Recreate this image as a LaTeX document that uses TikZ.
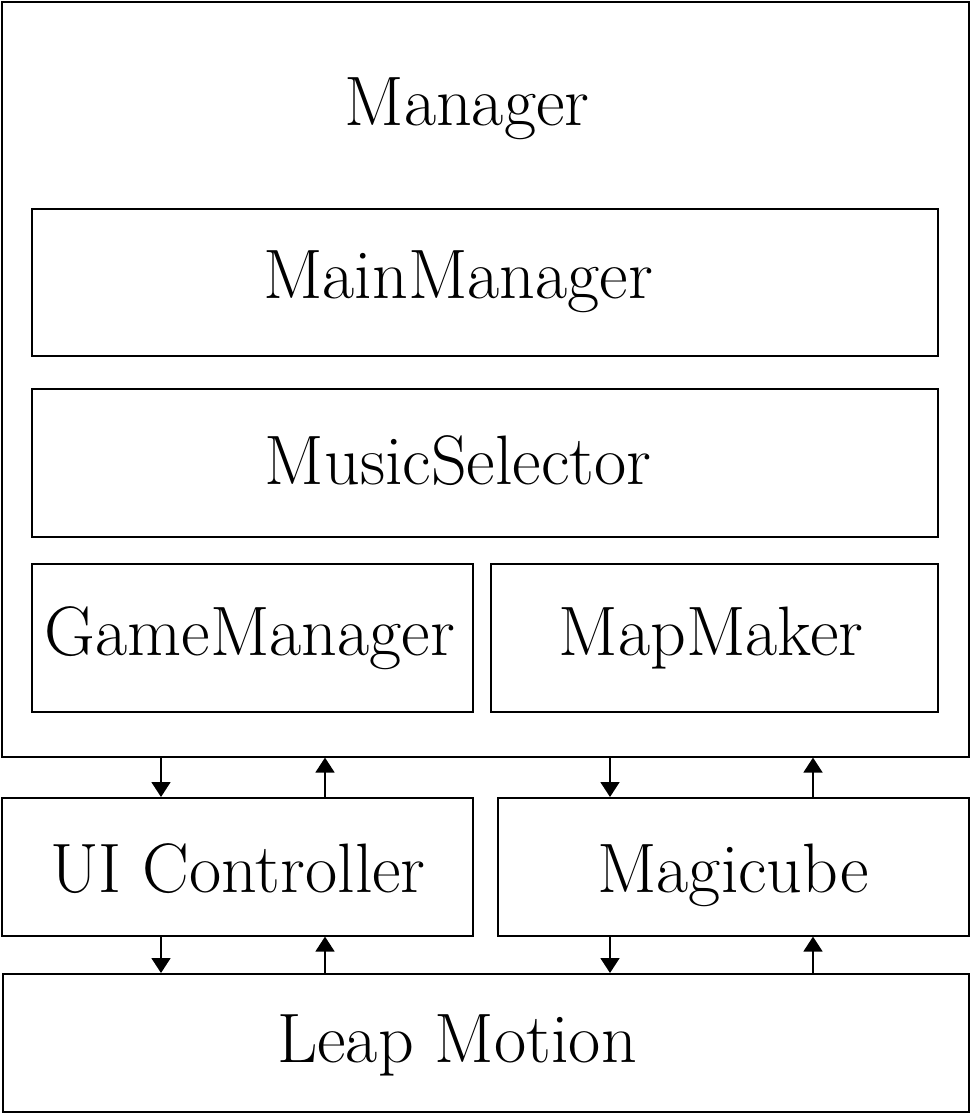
\documentclass[tikz,border=0pt]{standalone}
\usepackage{fontspec}
\usetikzlibrary{arrows.meta}
\begin{document}
\begin{tikzpicture}[x=1pt,y=1pt,
  box/.style={draw=black,line width=1.6pt,rectangle,inner sep=0pt,anchor=north west},
  lbl/.style={anchor=base,inner sep=0pt,font=\fontsize{70}{84}\selectfont},
  arr/.style={line width=1.8pt,-{Triangle[width=19pt,length=15pt]}}]
\useasboundingbox (0,0) rectangle (970,-1114);
% boxes
\node[box,minimum width=967pt,minimum height=755pt] (mgr) at (1,-1) {};
\node[box,minimum width=906pt,minimum height=147pt] (mainm) at (31,-208) {};
\node[box,minimum width=906pt,minimum height=148pt] (music) at (31,-388) {};
\node[box,minimum width=441pt,minimum height=148pt] (game) at (31,-563) {};
\node[box,minimum width=447pt,minimum height=148pt] (mapm) at (490,-563) {};
\node[box,minimum width=471pt,minimum height=138pt] (ui) at (1,-797) {};
\node[box,minimum width=471pt,minimum height=138pt] (cube) at (497,-797) {};
\node[box,minimum width=966pt,minimum height=138pt] (leap) at (2,-973) {};
% labels
\node[lbl] (tmgr) at (467,-125) {Manager};
\node[lbl] (tmain) at (458,-298) {MainManager};
\node[lbl] (tmusic) at (458,-484) {MusicSelector};
\node[lbl] (tgame) at (250,-655) {GameManager};
\node[lbl] (tmap) at (711,-655) {MapMaker};
\node[lbl] (tui) at (238,-892) {UI Controller};
\node[lbl] (tcube) at (733,-892) {Magicube};
\node[lbl] (tleap) at (457,-1062) {Leap Motion};
% arrows
\draw[arr] (161,0 |- mgr.south) -- (161,0 |- ui.north);
\draw[arr] (325,0 |- ui.north) -- (325,0 |- mgr.south);
\draw[arr] (610,0 |- mgr.south) -- (610,0 |- cube.north);
\draw[arr] (813,0 |- cube.north) -- (813,0 |- mgr.south);
\draw[arr] (161,0 |- ui.south) -- (161,0 |- leap.north);
\draw[arr] (325,0 |- leap.north) -- (325,0 |- ui.south);
\draw[arr] (610,0 |- cube.south) -- (610,0 |- leap.north);
\draw[arr] (813,0 |- leap.north) -- (813,0 |- cube.south);
\end{tikzpicture}
\end{document}
